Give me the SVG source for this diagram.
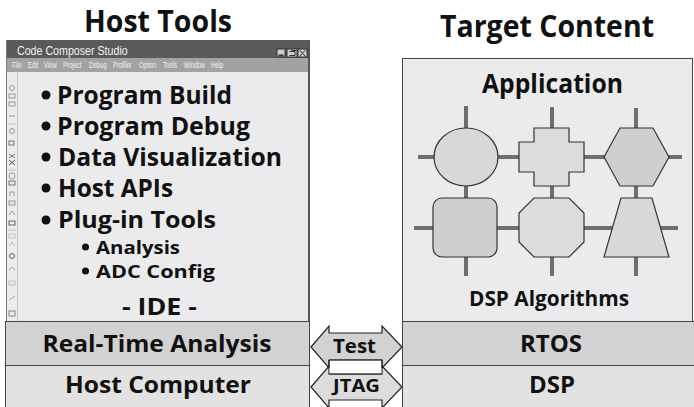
<svg xmlns="http://www.w3.org/2000/svg" width="694" height="407" viewBox="0 0 694 407">
  <style>
    .h { font-family: "Open Sans", "Noto Sans", "Liberation Sans", sans-serif; font-weight: 700; fill: #111; }
    .ui { font-family: "Liberation Sans", Arial, sans-serif; fill: #f2f2f2; }
    .panel { fill: #ebebee; }
    .dark { fill: #d2d2d2; stroke: #444; stroke-width: 1; }
    .light { fill: #e2e2e2; stroke: #444; stroke-width: 1; }
    .blk { stroke: #333; stroke-width: 1.2; }
    .wire { stroke: #6e6e6e; stroke-width: 4; fill: none; }
    .ico { fill: none; stroke: #9a9a9a; stroke-width: 1; }
    .arrow { stroke: #222; stroke-width: 1.2; }
  </style>

  <rect width="694" height="407" fill="#fff"/>

  <!-- column headings -->
  <g id="host-tools-title">
    <text class="h" x="158" y="32" font-size="30" text-anchor="middle" textLength="148" lengthAdjust="spacingAndGlyphs">Host Tools</text>
  </g>
  <g id="target-content-title">
    <text class="h" x="547" y="37" font-size="30" text-anchor="middle" textLength="214" lengthAdjust="spacingAndGlyphs">Target Content</text>
  </g>

  <!-- IDE window -->
  <g id="ide-window">
    <rect class="panel" x="6" y="40" width="303" height="282"/>
    <rect x="6" y="40" width="303" height="18" fill="#5a5a5a"/>
    <!-- narrow UI lettering: horizontally condensed text -->
    <g transform="translate(17 55) scale(0.82 1)">
      <text class="ui" x="0" y="0" font-size="13">Code Composer Studio</text>
    </g>
    <!-- window buttons -->
    <g stroke="#333" stroke-width="1">
      <rect x="277" y="49" width="8" height="8" fill="#cfcfcf"/>
      <rect x="287" y="49" width="10" height="8" fill="#cfcfcf"/>
      <rect x="298" y="49" width="9" height="8" fill="#cfcfcf"/>
      <line x1="278.5" y1="55.5" x2="283.5" y2="55.5" stroke-width="2"/>
      <path d="M289.5 51.5 H295 V55.5 H289.5 M291.5 50.5 H296" fill="none"/>
      <path d="M299.5 50 L305.5 56.5 M305.5 50 L299.5 56.5" fill="none"/>
    </g>
    <!-- menu bar -->
    <rect x="6" y="58" width="303" height="14" fill="#a2a2a2"/>
    <g class="ui" font-size="9" transform="translate(0 68) scale(0.66 1)">
      <text x="18.2" y="0">File</text>
      <text x="42.4" y="0">Edit</text>
      <text x="66.7" y="0">View</text>
      <text x="95.5" y="0">Project</text>
      <text x="134.8" y="0">Debug</text>
      <text x="171.2" y="0">Profiler</text>
      <text x="210.6" y="0">Option</text>
      <text x="247" y="0">Tools</text>
      <text x="278.8" y="0">Window</text>
      <text x="319.7" y="0">Help</text>
    </g>
    <!-- vertical tool strip -->
    <line x1="17.5" y1="72" x2="17.5" y2="321" stroke="#c8c8c8" stroke-width="1"/>
    <g class="ico">
      <circle cx="12" cy="88" r="2.5"/>
      <rect x="9" y="94" width="6" height="4"/>
      <rect x="9" y="102" width="6" height="4"/>
      <line x1="9" y1="116" x2="15" y2="116"/>
      <line x1="8" y1="124" x2="16" y2="124" stroke="#c4c4c4"/>
      <circle cx="12" cy="131" r="2.5"/>
      <rect x="9" y="141" width="5" height="4" stroke="#777"/>
      <path d="M9 154 L15 158 M9 158 L15 154" stroke="#777"/>
      <path d="M9 160 L15 165 M9 165 L15 160" stroke="#555"/>
      <line x1="8" y1="170" x2="16" y2="170" stroke="#c4c4c4"/>
      <circle cx="12" cy="176" r="3"/>
      <rect x="9" y="181" width="6" height="4" stroke="#777"/>
      <path d="M10 196 V192 H14 V196"/>
      <rect x="9" y="201" width="6" height="4"/>
      <path d="M9 215 L12 211 L15 215"/>
      <rect x="9" y="221" width="6" height="4" stroke="#666"/>
      <line x1="8" y1="230" x2="16" y2="230" stroke="#c4c4c4"/>
      <rect x="9" y="234" width="6" height="4" stroke="#c4c4c4"/>
      <path d="M9 246 L12 242 L15 246" stroke="#bbb"/>
      <circle cx="12" cy="256" r="2.5" stroke="#666"/>
      <path d="M9 270 Q12 265 15 270" stroke="#aaa"/>
      <rect x="9" y="281" width="6" height="4" stroke="#bbb"/>
      <path d="M9 300 L15 296" stroke="#aaa"/>
      <rect x="9" y="311" width="6" height="5" stroke="#888"/>
    </g>
    <!-- window frame -->
    <line x1="6.5" y1="40" x2="6.5" y2="321" stroke="#777" stroke-width="1"/>
    <rect x="308" y="40" width="2" height="281" fill="#555"/>

    <!-- feature list -->
    <g class="h">
      <circle cx="46" cy="95" r="4.5" fill="#111"/>
      <text x="57" y="104" font-size="25" textLength="175" lengthAdjust="spacingAndGlyphs">Program Build</text>
      <circle cx="46" cy="126" r="4.5" fill="#111"/>
      <text x="57" y="135" font-size="25" textLength="193" lengthAdjust="spacingAndGlyphs">Program Debug</text>
      <circle cx="46" cy="157" r="4.5" fill="#111"/>
      <text x="58" y="166" font-size="25" textLength="224" lengthAdjust="spacingAndGlyphs">Data Visualization</text>
      <circle cx="46" cy="188" r="4.5" fill="#111"/>
      <text x="58" y="197" font-size="25" textLength="115" lengthAdjust="spacingAndGlyphs">Host APIs</text>
      <circle cx="46" cy="220" r="4.5" fill="#111"/>
      <text x="58" y="228" font-size="24" textLength="158" lengthAdjust="spacingAndGlyphs">Plug-in Tools</text>
      <circle cx="85.5" cy="247" r="3.5" fill="#111"/>
      <text x="96" y="253.5" font-size="18" textLength="84" lengthAdjust="spacingAndGlyphs">Analysis</text>
      <circle cx="85.5" cy="271" r="3.5" fill="#111"/>
      <text x="96" y="277.5" font-size="18" textLength="119" lengthAdjust="spacingAndGlyphs">ADC Config</text>
      <text x="159.5" y="315" font-size="23" text-anchor="middle" textLength="75" lengthAdjust="spacingAndGlyphs">- IDE -</text>
    </g>
  </g>

  <!-- host layers -->
  <g id="real-time-analysis">
    <rect class="dark" x="5.5" y="321.5" width="304" height="44"/>
    <text class="h" x="157" y="352" font-size="23" text-anchor="middle" textLength="229" lengthAdjust="spacingAndGlyphs">Real-Time Analysis</text>
  </g>
  <g id="host-computer">
    <rect class="light" x="5.5" y="365.5" width="304" height="44"/>
    <text class="h" x="158" y="393" font-size="23" text-anchor="middle" textLength="186" lengthAdjust="spacingAndGlyphs">Host Computer</text>
  </g>

  <!-- target application panel -->
  <g id="application">
    <rect class="panel" x="402.5" y="58.5" width="290" height="263" stroke="#444" stroke-width="1"/>
    <text class="h" x="552.5" y="93" font-size="27" text-anchor="middle" textLength="141" lengthAdjust="spacingAndGlyphs">Application</text>
    <text class="h" x="549" y="306" font-size="21" text-anchor="middle" textLength="160" lengthAdjust="spacingAndGlyphs">DSP Algorithms</text>
  </g>

  <!-- wiring between algorithm blocks -->
  <g id="connectors">
    <g class="wire">
      <line x1="418" y1="157" x2="682" y2="157"/>
      <line x1="414" y1="228" x2="678" y2="228"/>
      <line x1="466" y1="106" x2="466" y2="130"/>
      <line x1="552" y1="107" x2="552" y2="130"/>
      <line x1="636" y1="108" x2="636" y2="130"/>
      <line x1="466" y1="184" x2="466" y2="200"/>
      <line x1="552" y1="184" x2="552" y2="200"/>
      <line x1="636" y1="184" x2="636" y2="200"/>
      <line x1="466" y1="255" x2="466" y2="276"/>
      <line x1="552" y1="255" x2="552" y2="276"/>
      <line x1="636" y1="255" x2="636" y2="276"/>
    </g>
    <!-- host/target links -->
    <g id="link-jtag">
      <path class="arrow" fill="#dcdcdc" d="M311 387 L329 366 L329 374 L382 374 L382 366 L402 387 L382 408 L382 400 L329 400 L329 408 Z"/>
      <text class="h" x="356.5" y="392" font-size="18" text-anchor="middle" textLength="47" lengthAdjust="spacingAndGlyphs">JTAG</text>
    </g>
    <g id="link-test">
      <path class="arrow" fill="#d2d2d2" d="M311 347 L329 326 L329 333 L382 333 L382 326 L402 347 L382 368 L382 360 L329 360 L329 368 Z"/>
      <rect x="329.6" y="360.6" width="51.8" height="12.8" fill="#fff"/>
      <line x1="329" y1="360" x2="382" y2="360" stroke="#222" stroke-width="1.2"/>
      <line x1="329" y1="374" x2="382" y2="374" stroke="#222" stroke-width="1.2"/>
      <path d="M329 360 V368 M382 360 V368" stroke="#222" stroke-width="1.2"/>
      <text class="h" x="354.5" y="353" font-size="20" text-anchor="middle" textLength="43" lengthAdjust="spacingAndGlyphs">Test</text>
    </g>
  </g>

  <!-- algorithm blocks -->
  <g id="block-ellipse"><ellipse class="blk" cx="466" cy="157" rx="32" ry="29" fill="#d8d8da"/></g>
  <g id="block-cross"><path class="blk" fill="#dcdcdd" d="M534 128 H569 V142 H584 V172 H569 V186 H534 V172 H519 V142 H534 Z"/></g>
  <g id="block-hexagon"><path class="blk" fill="#cfcfd1" d="M620 128 H653 L669 157 L653 186 H620 L604 157 Z"/></g>
  <g id="block-rounded"><rect class="blk" x="433" y="198" width="64" height="59" rx="9" fill="#cfcfd1"/></g>
  <g id="block-octagon"><path class="blk" fill="#dcdcdd" d="M534 198 H569 L584 213 V242 L569 257 H534 L519 242 V213 Z"/></g>
  <g id="block-trapezoid"><path class="blk" fill="#d8d8da" d="M621 198 H652 L669 257 H604 Z"/></g>

  <!-- target layers -->
  <g id="rtos">
    <rect class="dark" x="402.5" y="321.5" width="292" height="44"/>
    <text class="h" x="551" y="352" font-size="23" text-anchor="middle" textLength="62" lengthAdjust="spacingAndGlyphs">RTOS</text>
  </g>
  <g id="dsp">
    <rect class="light" x="402.5" y="365.5" width="292" height="44"/>
    <text class="h" x="552" y="393" font-size="23" text-anchor="middle" textLength="46" lengthAdjust="spacingAndGlyphs">DSP</text>
  </g>
</svg>
